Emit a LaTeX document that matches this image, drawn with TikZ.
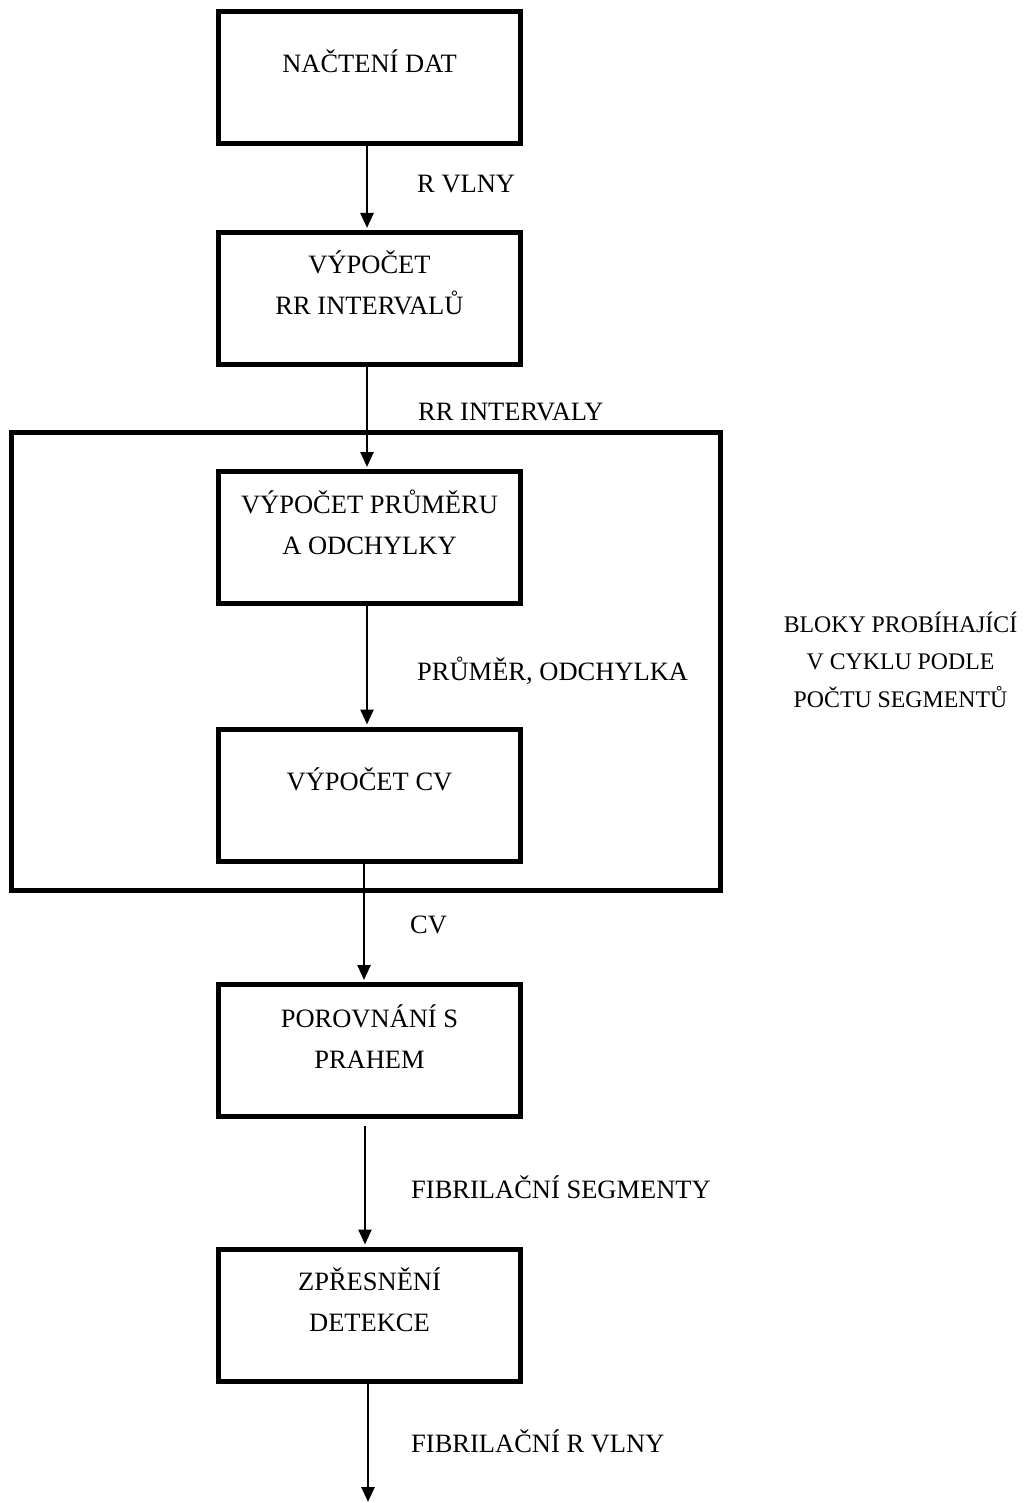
\documentclass[tikz,border=0pt]{standalone}
\usepackage{fontspec}
\setmainfont{Liberation Serif}
\usetikzlibrary{arrows.meta}

\tikzset{
  stepbox/.style={draw=black, line width=5pt, rectangle, inner sep=0pt,
    minimum width=302pt, minimum height=132pt},
  loopframe/.style={draw=black, line width=5pt, rectangle, inner sep=0pt,
    minimum width=709pt, minimum height=458pt},
  boxtext/.style={anchor=base, align=center, inner sep=0pt,
    font=\fontsize{26.5}{41}\selectfont},
  flowlabel/.style={anchor=base west, inner sep=0pt,
    font=\fontsize{26.5}{31}\selectfont},
  sidenote/.style={anchor=base, align=center, inner sep=0pt,
    font=\fontsize{23.8}{37.5}\selectfont},
  flow/.style={draw=black, line width=2.5pt,
    -{Triangle[length=15pt,width=13pt]}, shorten >=2pt}
}

\begin{document}
\begin{tikzpicture}[x=1pt,y=-1pt]
  \useasboundingbox[fill=white] (0,0) rectangle (1031,1503);

  % loop frame around the per-segment blocks
  \node[loopframe] (loop) at (365.5,661) {};

  % processing blocks
  \node[stepbox] (b1) at (369.5,77.5) {};
  \node[stepbox] (b2) at (369.5,298.5) {};
  \node[stepbox] (b3) at (369.5,537.5) {};
  \node[stepbox] (b4) at (369.5,795) {};
  \node[stepbox] (b5) at (369.5,1050.5) {};
  \node[stepbox] (b6) at (369.5,1315) {};

  % block captions
  \node[boxtext] (t1) at (369.5,73) {NAČTENÍ DAT};
  \node[boxtext] (t2a) at (369.5,274) {VÝPOČET};
  \node[boxtext] (t2b) at (369.5,315) {RR INTERVALŮ};
  \node[boxtext] (t3a) at (369.5,513) {VÝPOČET PRŮMĚRU};
  \node[boxtext] (t3b) at (369.5,554) {A ODCHYLKY};
  \node[boxtext] (t4) at (369.5,790) {VÝPOČET CV};
  \node[boxtext] (t5a) at (369.5,1027) {POROVNÁNÍ S};
  \node[boxtext] (t5b) at (369.5,1068) {PRAHEM};
  \node[boxtext] (t6a) at (369.5,1290) {ZPŘESNĚNÍ};
  \node[boxtext] (t6b) at (369.5,1331) {DETEKCE};

  % data flow
  \coordinate (out) at (368,1502);
  \draw[flow] ([xshift=-2.5pt]b1.south) -- ([xshift=-2.5pt]b2.north);
  \draw[flow] ([xshift=-2.5pt]b2.south) -- ([xshift=-2.5pt]b3.north);
  \draw[flow] ([xshift=-2.5pt]b3.south) -- ([xshift=-2.5pt]b4.north);
  \draw[flow] ([xshift=-5.5pt]b4.south) -- ([xshift=-5.5pt]b5.north);
  \draw[flow] ([xshift=-4.5pt,yshift=-7pt]b5.south) -- ([xshift=-4.5pt]b6.north);
  \draw[flow, shorten >=0pt] ([xshift=-1.5pt]b6.south) -- (out);

  % flow labels
  \node[flowlabel] (l1) at (417,193) {R VLNY};
  \node[flowlabel] (l2) at (418,420) {RR INTERVALY};
  \node[flowlabel] (l3) at (417,680) {PRŮMĚR, ODCHYLKA};
  \node[flowlabel] (l4) at (410,933) {CV};
  \node[flowlabel] (l5) at (411,1198) {FIBRILAČNÍ SEGMENTY};
  \node[flowlabel] (l6) at (411,1452) {FIBRILAČNÍ R VLNY};

  % note on the loop frame
  \node[sidenote] (n1) at (900.5,632) {BLOKY PROBÍHAJÍCÍ};
  \node[sidenote] (n2) at (900.5,669.5) {V CYKLU PODLE};
  \node[sidenote] (n3) at (900.5,707) {POČTU SEGMENTŮ};
\end{tikzpicture}
\end{document}
